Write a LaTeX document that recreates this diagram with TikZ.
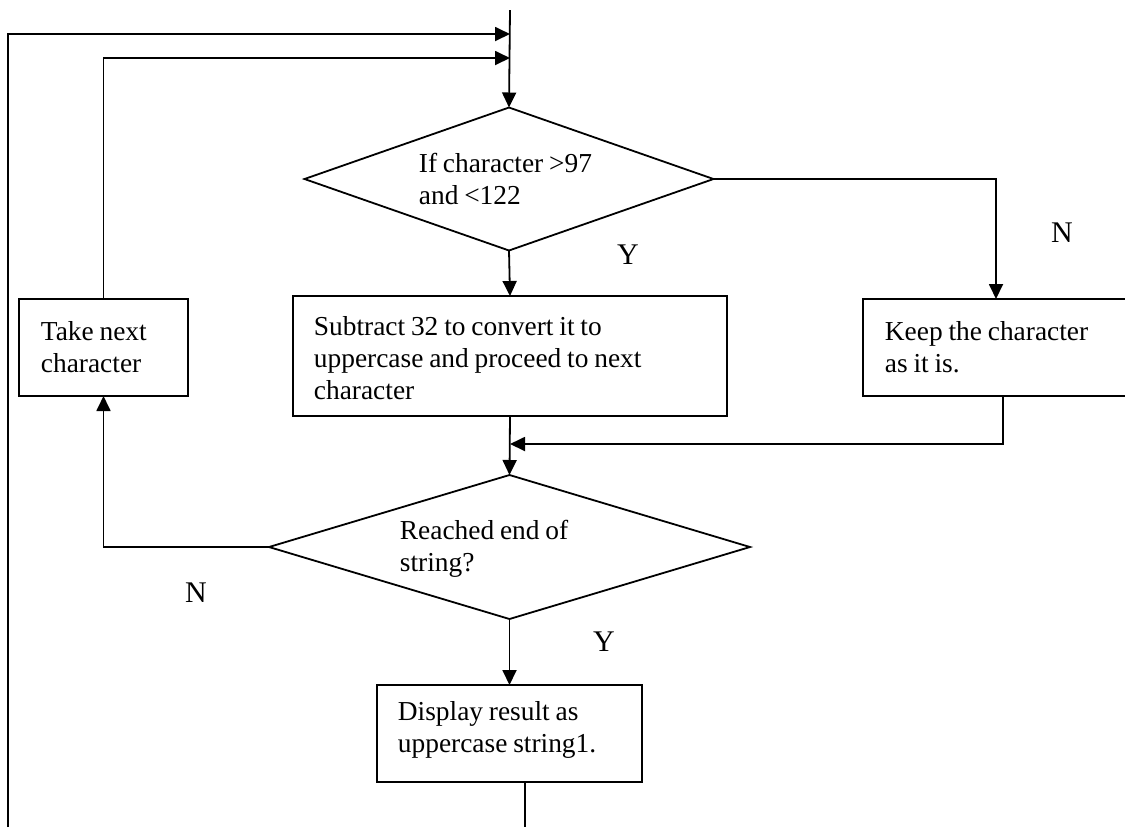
\documentclass[tikz,border=0pt]{standalone}
\usepackage{fontspec}
\setmainfont[WordSpace=0.85]{Liberation Serif}
\usetikzlibrary{shapes.geometric,arrows.meta}

\begin{document}
\begin{tikzpicture}[
  x=0.5pt, y=-0.5pt,
  line width=0.9pt,
  every node/.style={font=\fontsize{13.7}{16}\selectfont},
  box/.style={draw, rectangle, inner sep=0pt, outer sep=0pt},
  decision/.style={draw, diamond, inner sep=0pt, outer sep=0pt},
  txt/.style={inner sep=0pt, align=left},
  branch/.style={inner sep=0pt, font=\fontsize{15}{17}\selectfont},
  arr/.style={-{Triangle[length=7.5pt,width=7pt]}}
]
% canvas
\fill[white] (0,0) rectangle (1125,827);
\useasboundingbox (0,0) rectangle (1125,827);

% decisions
\node[decision, minimum width=204.5pt, minimum height=71.5pt] (d1) at (509,179) {};
\node[txt, anchor=base west] (d1t) at (418,204) {If character >97\\and <122};

\node[decision, minimum width=240.5pt, minimum height=72pt] (d2) at (509.5,547) {};
\node[txt, anchor=base west] (d2t) at (399,571) {Reached end of\\string?};

% process boxes
\node[box, minimum width=217pt, minimum height=60pt] (sub) at (510,356) {};
\node[txt, anchor=west, xshift=10pt, yshift=-1pt] (subt) at (sub.west)
  {Subtract 32 to convert it to\\uppercase and proceed to next\\character};

\node[box, minimum width=84.5pt, minimum height=48.5pt] (take) at (103.5,347.5) {};
\node[txt, anchor=west, xshift=10.5pt] (taket) at (take.west) {Take next\\character};

\node[box, minimum width=133pt, minimum height=48.5pt] (keep) at (996,347.5) {};
\node[txt, anchor=west, xshift=10.5pt] (keept) at (keep.west) {Keep the character\\as it is.};

\node[box, minimum width=132.5pt, minimum height=48.5pt] (disp) at (509.5,733.5) {};
\node[txt, anchor=west, xshift=10pt, yshift=2pt] (dispt) at (disp.west) {Display result as\\uppercase string1.};

% branch labels
\node[branch] (y1) at (628,255) {Y};
\node[branch] (n1) at (1062,233) {N};
\node[branch] (n2) at (196,593) {N};
\node[branch] (y2) at (604,642) {Y};

% junction points
\coordinate (entry) at (510,10);
\coordinate (j1) at (510,34);
\coordinate (j2) at (510,58);
\coordinate (j3) at (510,444);
\coordinate (loopin) at (8,827);
\coordinate (exit) at (525,827);

% connectors
\draw[arr] (entry) -- (d1.north);
\draw[arr] (loopin) |- (j1);
\draw[arr] (take.north) |- (j2);
\draw[arr] (d1.south) -- (sub.north);
\draw[arr] (d1.east) -| (keep.north);
\draw[arr] (sub.south) -- (d2.north);
\draw[arr] ([xshift=3.5pt]keep.south) |- (j3);
\draw[arr] (d2.west) -| (take.south);
\draw[arr] (d2.south) -- (disp.north);
\draw (disp.south -| exit) -- (exit);
\end{tikzpicture}
\end{document}
